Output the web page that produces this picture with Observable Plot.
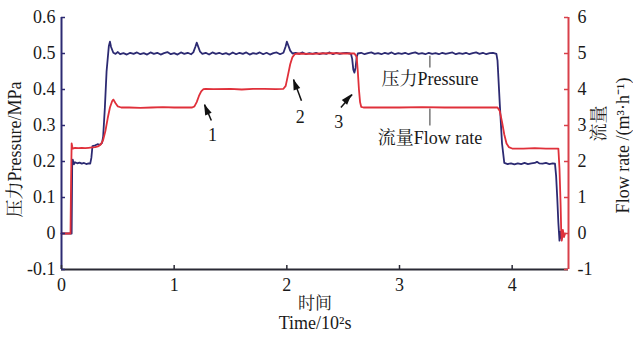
<!DOCTYPE html>
<html><head><meta charset="utf-8">
<script src="https://cdn.jsdelivr.net/npm/d3@7"></script>
<script src="https://cdn.jsdelivr.net/npm/@observablehq/plot@0.6"></script>
<style>body{margin:0;background:#fff} svg{display:block}</style>
</head><body><div id="chart"></div><script>
// ---- data ----
const xTicks = [0, 1, 2, 3, 4];
const pressureTicks = [-0.1, 0, 0.1, 0.2, 0.3, 0.4, 0.5, 0.6];
const flowTicks = [-1, 0, 1, 2, 3, 4, 5, 6];

// pressure [time (10^2 s), MPa]
const pressure = [[0,0],[0.09,0],[0.095,0.2],[0.10,0.205],[0.11,0.192],[0.12,0.198],[0.14,0.195],[0.16,0.197],[0.18,0.194],[0.20,0.196],[0.22,0.193],[0.24,0.195],[0.255,0.194],[0.265,0.21],[0.275,0.243],[0.30,0.245],[0.32,0.248],[0.34,0.246],[0.36,0.252],[0.37,0.27],[0.385,0.35],[0.40,0.45],[0.42,0.52],[0.43,0.533],[0.44,0.518],[0.46,0.502],[0.48,0.499],[0.50,0.504],[0.52,0.498],[0.55,0.501],[0.58,0.497],[0.61,0.502],[0.64,0.499],[0.67,0.503],[0.70,0.498],[0.73,0.501],[0.76,0.497],[0.79,0.503],[0.82,0.499],[0.85,0.502],[0.88,0.497],[0.91,0.501],[0.94,0.504],[0.97,0.498],[1.00,0.501],[1.03,0.497],[1.06,0.503],[1.09,0.499],[1.12,0.502],[1.15,0.498],[1.17,0.503],[1.19,0.52],[1.20,0.53],[1.21,0.522],[1.23,0.505],[1.25,0.499],[1.28,0.502],[1.31,0.497],[1.34,0.503],[1.37,0.499],[1.40,0.502],[1.43,0.498],[1.46,0.501],[1.49,0.497],[1.52,0.503],[1.55,0.498],[1.58,0.502],[1.61,0.499],[1.64,0.503],[1.67,0.497],[1.70,0.501],[1.73,0.499],[1.76,0.503],[1.79,0.498],[1.82,0.502],[1.85,0.497],[1.88,0.501],[1.91,0.503],[1.94,0.498],[1.97,0.502],[1.99,0.52],[2.00,0.533],[2.01,0.525],[2.03,0.508],[2.05,0.5],[2.08,0.502],[2.11,0.499],[2.14,0.503],[2.17,0.498],[2.20,0.501],[2.23,0.499],[2.26,0.502],[2.29,0.498],[2.32,0.501],[2.35,0.499],[2.38,0.503],[2.41,0.498],[2.44,0.502],[2.47,0.499],[2.50,0.501],[2.53,0.502],[2.56,0.5],[2.57,0.498],[2.58,0.485],[2.59,0.455],[2.60,0.447],[2.61,0.46],[2.62,0.49],[2.63,0.5],[2.66,0.502],[2.69,0.498],[2.72,0.501],[2.75,0.503],[2.78,0.499],[2.81,0.501],[2.84,0.498],[2.87,0.502],[2.90,0.499],[2.93,0.503],[2.96,0.498],[2.99,0.501],[3.02,0.499],[3.05,0.502],[3.08,0.498],[3.11,0.501],[3.14,0.503],[3.17,0.499],[3.20,0.501],[3.23,0.498],[3.26,0.502],[3.29,0.499],[3.32,0.501],[3.35,0.498],[3.38,0.502],[3.41,0.499],[3.44,0.501],[3.47,0.503],[3.50,0.498],[3.53,0.501],[3.56,0.499],[3.59,0.502],[3.62,0.498],[3.65,0.501],[3.68,0.503],[3.71,0.499],[3.74,0.502],[3.77,0.498],[3.80,0.501],[3.83,0.502],[3.86,0.499],[3.87,0.48],[3.89,0.36],[3.91,0.25],[3.93,0.196],[3.96,0.193],[3.99,0.195],[4.02,0.192],[4.05,0.195],[4.08,0.193],[4.11,0.196],[4.14,0.193],[4.17,0.195],[4.20,0.196],[4.22,0.199],[4.24,0.195],[4.27,0.194],[4.30,0.196],[4.33,0.193],[4.36,0.195],[4.38,0.194],[4.39,0.16],[4.40,0.1],[4.41,0.03],[4.42,-0.02],[4.43,0.005],[4.44,-0.015],[4.45,0.002],[4.46,-0.005]];

// flow rate [time (10^2 s), m3/h]
const flow = [[0,0],[0.08,0],[0.085,1.5],[0.09,2.5],[0.095,2.42],[0.10,2.36],[0.12,2.38],[0.15,2.37],[0.18,2.38],[0.21,2.37],[0.24,2.38],[0.27,2.39],[0.30,2.4],[0.33,2.43],[0.35,2.48],[0.37,2.6],[0.39,2.85],[0.41,3.2],[0.43,3.5],[0.45,3.68],[0.46,3.72],[0.48,3.62],[0.50,3.53],[0.53,3.5],[0.6,3.5],[0.7,3.49],[0.8,3.5],[0.9,3.51],[1.0,3.5],[1.1,3.5],[1.16,3.5],[1.18,3.53],[1.20,3.65],[1.22,3.82],[1.24,3.95],[1.26,4.01],[1.28,4.02],[1.35,4.01],[1.5,4.02],[1.6,4.0],[1.7,4.02],[1.8,4.02],[1.9,4.01],[1.97,4.02],[1.99,4.1],[2.01,4.4],[2.03,4.7],[2.05,4.9],[2.07,4.98],[2.1,5.0],[2.2,4.99],[2.3,5.0],[2.4,5.01],[2.5,5.0],[2.6,5.0],[2.62,4.9],[2.63,4.5],[2.64,4.0],[2.65,3.65],[2.66,3.52],[2.68,3.5],[2.8,3.5],[3.0,3.5],[3.2,3.51],[3.4,3.5],[3.6,3.5],[3.8,3.5],[3.87,3.5],[3.89,3.4],[3.91,3.1],[3.93,2.75],[3.95,2.5],[3.97,2.4],[4.0,2.36],[4.1,2.36],[4.2,2.37],[4.3,2.36],[4.41,2.36],[4.42,1.8],[4.43,0.8],[4.435,0.1],[4.44,-0.2],[4.45,0.1],[4.46,-0.1],[4.47,0.0]];

// numbered arrows: tail -> tip, and label position (pressure units)
const arrowLabels = ["1", "2", "3"];
const arrowTail = [[1.33, 0.314], [2.13, 0.369], [2.48, 0.35]];
const arrowTip = [[1.27, 0.358], [2.06, 0.428], [2.58, 0.386]];
const arrowLabelPos = [[1.34, 0.272], [2.12, 0.322], [2.46, 0.308]];

// series name annotations
const seriesNames = ["压力Pressure", "流量Flow rate"];
const nameLeaderTop = [[3.27, 0.494], [3.27, 0.347]];
const nameLeaderBottom = [[3.27, 0.461], [3.27, 0.300]];
const namePos = [[3.27, 0.428], [3.27, 0.264]];

// ---- chart ----
const NAVY = "#2c2a72", RED = "#e0303a", AXRED = "#d8404a", INK = "#1a1a1a";
const W = 633, H = 340, ML = 61, MR = 65, MT = 17, MB = 71;
const innerW = W - ML - MR, innerH = H - MT - MB;
const FONT = "'Liberation Serif','Times New Roman','Noto Serif CJK SC','Noto Sans CJK SC',serif";
const FS = 18;

const arrows = arrowLabels.map((l, i) => ({label: l, x1: arrowTail[i][0], y1: arrowTail[i][1], x2: arrowTip[i][0], y2: arrowTip[i][1], lx: arrowLabelPos[i][0], ly: arrowLabelPos[i][1]}));
const names = seriesNames.map((n, i) => ({name: n, x1: nameLeaderTop[i][0], y1: nameLeaderTop[i][1], x2: nameLeaderBottom[i][0], y2: nameLeaderBottom[i][1], tx: namePos[i][0], ty: namePos[i][1]}));

const txt = {fontFamily: FONT, fontSize: FS, fill: INK};

const chart = Plot.plot({
  width: W, height: H,
  marginLeft: ML, marginRight: MR, marginTop: MT, marginBottom: MB,
  style: {fontFamily: FONT, fontSize: FS + "px", color: INK, background: "#fff"},
  x: {domain: [0, 4.5]},
  y: {domain: [-0.1, 0.6]},
  marks: [
    // series
    Plot.line(pressure, {x: d => d[0], y: d => d[1], stroke: NAVY, strokeWidth: 1.8}),
    Plot.line(flow, {x: d => d[0], y: d => d[1] / 10, stroke: RED, strokeWidth: 1.8}),
    // axis lines
    Plot.ruleY([-0.1], {stroke: "#2a2a35", strokeWidth: 2}),
    Plot.ruleX([0], {stroke: NAVY, strokeWidth: 2}),
    Plot.ruleX([4.5], {stroke: AXRED, strokeWidth: 2}),
    // inward ticks
    Plot.tickX(xTicks, {x: d => d, stroke: "#2a2a35", strokeWidth: 1.5, insetTop: innerH - 4}),
    Plot.tickY(pressureTicks, {y: d => d, stroke: NAVY, strokeWidth: 1.5, insetRight: innerW - 4}),
    Plot.tickY(flowTicks, {y: d => d / 10, stroke: AXRED, strokeWidth: 1.5, insetLeft: innerW - 4}),
    // tick labels
    Plot.axisX(xTicks, {tickSize: 0, tickPadding: 9, ...txt}),
    Plot.axisY(pressureTicks, {anchor: "left", tickSize: 0, tickPadding: 6, ...txt,
      tickFormat: d => (Math.abs(d) < 1e-9 ? "0" : String(+d.toFixed(1)))}),
    Plot.axisY(flowTicks.map(f => f / 10), {anchor: "right", tickSize: 0, tickPadding: 9, ...txt,
      tickFormat: d => String(Math.round(d * 10))}),
    // axis titles
    Plot.text(["时间"], {frameAnchor: "bottom", dy: 39, ...txt, fontSize: 17}),
    Plot.text(["Time/10²s"], {frameAnchor: "bottom", dy: 59, ...txt}),
    Plot.text(["压力Pressure/MPa"], {frameAnchor: "left", textAnchor: "middle", dx: -46, dy: 6, rotate: -90, ...txt}),
    Plot.text(["流量"], {frameAnchor: "right", textAnchor: "middle", dx: 31, dy: -20, rotate: -90, ...txt}),
    Plot.text(["Flow rate /(m³·h⁻¹)"], {frameAnchor: "right", textAnchor: "middle", dx: 55, dy: 2, rotate: -90, ...txt}),
    // annotations
    Plot.link(names, {x1: "x1", y1: "y1", x2: "x2", y2: "y2", stroke: "#333", strokeWidth: 1}),
    Plot.text(names, {x: "tx", y: "ty", text: "name", ...txt}),
    Plot.link(arrows, {x1: "x1", y1: "y1", x2: "x2", y2: "y2", stroke: "#111", strokeWidth: 1.5}),
    Plot.text(arrows, {x: "lx", y: "ly", text: "label", ...txt})
  ]
});
document.getElementById("chart").append(chart);

// filled arrow heads positioned with Plot's own scales
const sx = chart.scale("x"), sy = chart.scale("y");
const svg = d3.select(chart);
arrows.forEach(a => {
  const x1 = sx.apply(a.x1), y1 = sy.apply(a.y1), x2 = sx.apply(a.x2), y2 = sy.apply(a.y2);
  const ang = Math.atan2(y2 - y1, x2 - x1);
  const L = 11, hw = 3.5;
  const bx = x2 - L * Math.cos(ang), by = y2 - L * Math.sin(ang);
  const px = -Math.sin(ang) * hw, py = Math.cos(ang) * hw;
  svg.append("path")
    .attr("d", `M${x2},${y2}L${bx + px},${by + py}L${bx - px},${by - py}Z`)
    .attr("fill", "#111");
});
</script></body></html>
